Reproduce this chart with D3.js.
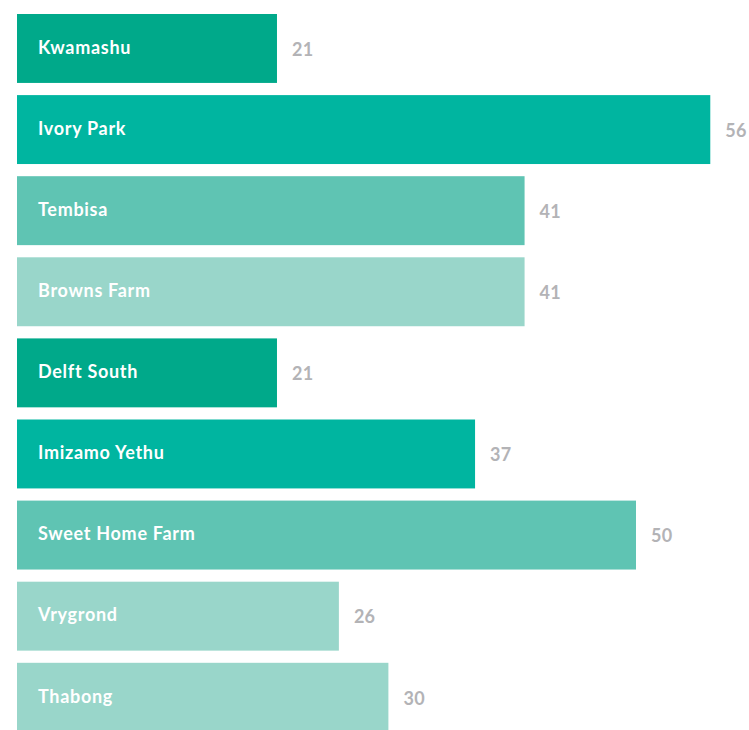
<!DOCTYPE html>
<html>
<head>
<meta charset="utf-8">
<script src="https://cdn.jsdelivr.net/npm/d3@7"></script>
<style>
  html, body { margin: 0; padding: 0; background: #ffffff; }
  svg { display: block; }
</style>
</head>
<body>
<svg id="chart" width="749" height="730"></svg>
<script>
// Settlements and their values, top to bottom
const categories = ["Kwamashu", "Ivory Park", "Tembisa", "Browns Farm", "Delft South",
                    "Imizamo Yethu", "Sweet Home Farm", "Vrygrond", "Thabong"];
const values = [21, 56, 41, 41, 21, 37, 50, 26, 30];
// Colour group per bar (0 = deep teal, 1 = teal, 2 = mid teal, 3 = pale teal)
const shades = [0, 1, 2, 3, 0, 1, 2, 3, 3];
const palette = ["#00a98a", "#00b5a0", "#5fc4b3", "#99d6ca"];

const data = categories.map((c, i) => ({ name: c, value: values[i], shade: shades[i] }));

const svg = d3.select("#chart");
const left = 17;
const step = 81.1;
const pad = 0.15;

const x = d3.scaleLinear().domain([0, 56]).range([left, left + 56 * 12.38]);
const y = d3.scaleBand()
  .domain(categories)
  .range([14, 14 + step * (categories.length - pad)])
  .paddingInner(pad)
  .paddingOuter(0);

const rows = svg.append("g").selectAll("g.row").data(data).join("g").attr("class", "row");

rows.append("rect")
  .attr("x", x(0))
  .attr("y", d => y(d.name))
  .attr("width", d => x(d.value) - x(0))
  .attr("height", y.bandwidth())
  .attr("fill", d => palette[d.shade]);

rows.append("text")
  .attr("x", x(0) + 21)
  .attr("y", d => y(d.name) + y.bandwidth() / 2 - 1)
  .attr("dy", "0.35em")
  .attr("fill", "#ffffff")
  .style("font-family", "Lato, 'Open Sans', sans-serif")
  .style("font-weight", 700)
  .style("font-size", "18px")
  .style("letter-spacing", "0.7px")
  .text(d => d.name);

rows.append("text")
  .attr("x", d => x(d.value) + 15)
  .attr("y", d => y(d.name) + y.bandwidth() / 2 + 1)
  .attr("dy", "0.35em")
  .attr("fill", "#b3b3b6")
  .style("font-family", "Lato, 'Open Sans', sans-serif")
  .style("font-weight", 700)
  .style("font-size", "18px")
  .style("letter-spacing", "0.3px")
  .text(d => d.value);
</script>
</body>
</html>
